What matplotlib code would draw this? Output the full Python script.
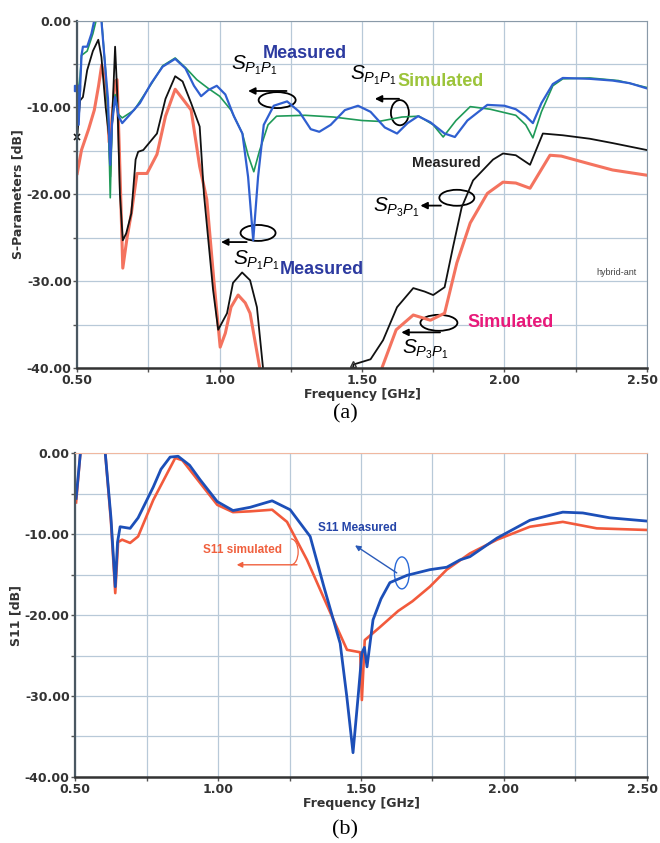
import matplotlib
matplotlib.use("Agg")
import matplotlib.pyplot as plt
import matplotlib.transforms as mtrans
from matplotlib.patches import Ellipse, Arc
from matplotlib.ticker import MultipleLocator, FormatStrFormatter

plt.rcParams['font.family'] = ['DejaVu Sans']
plt.rcParams['axes.unicode_minus'] = False
plt.rcParams['mathtext.fontset'] = 'custom'
plt.rcParams['mathtext.rm'] = 'Liberation Sans'
plt.rcParams['mathtext.it'] = 'Liberation Sans:italic'

# ---- (a) S-parameters of hybrid antenna ----
f_p1p1_meas = [0.500, 0.505, 0.515, 0.520, 0.535, 0.550, 0.563, 0.575, 0.585, 0.600, 0.608, 0.612, 0.616,
               0.622, 0.633, 0.645, 0.658, 0.680, 0.720, 0.760, 0.800, 0.844, 0.880, 0.910, 0.935, 0.960,
               0.990, 1.020, 1.050, 1.080, 1.100, 1.118, 1.135, 1.155, 1.190, 1.237, 1.280, 1.320, 1.350,
               1.390, 1.440, 1.486, 1.530, 1.580, 1.623, 1.660, 1.697, 1.740, 1.790, 1.826, 1.870, 1.940,
               2.000, 2.040, 2.075, 2.100, 2.130, 2.170, 2.205, 2.300, 2.380, 2.440, 2.500]
s_p1p1_meas = [-7.7, -12.0, -4.0, -3.0, -3.0, -1.5, 0.5, 1.0, 0.0, -6.0, -9.0, -13.0, -16.6,
               -12.0, -8.8, -11.0, -11.8, -11.0, -9.5, -7.2, -5.3, -4.4, -5.5, -7.5, -8.7, -8.0,
               -7.5, -8.5, -11.0, -13.0, -18.0, -25.3, -18.0, -12.0, -9.8, -9.3, -10.5, -12.5, -12.8,
               -12.0, -10.3, -9.8, -10.5, -12.3, -13.0, -11.8, -11.0, -11.7, -13.0, -13.4, -11.5, -9.7,
               -9.8, -10.2, -11.0, -11.8, -9.5, -7.3, -6.6, -6.7, -6.9, -7.2, -7.8]

f_p1p1_sim = [0.500, 0.505, 0.515, 0.535, 0.555, 0.570, 0.585, 0.600, 0.610, 0.616, 0.622, 0.633, 0.645,
              0.658, 0.700, 0.760, 0.800, 0.844, 0.880, 0.920, 0.960, 1.000, 1.040, 1.080, 1.100, 1.120,
              1.140, 1.170, 1.200, 1.300, 1.400, 1.500, 1.560, 1.640, 1.700, 1.750, 1.785, 1.830, 1.880,
              1.950, 2.040, 2.075, 2.100, 2.130, 2.170, 2.205, 2.300, 2.400, 2.500]
s_p1p1_sim = [-6.5, -9.0, -4.0, -3.5, -1.5, 0.5, 0.3, -6.0, -12.0, -20.4, -12.0, -8.5, -10.8,
              -11.2, -10.3, -7.3, -5.2, -4.3, -5.4, -6.8, -7.8, -8.7, -10.3, -13.0, -15.5, -17.4,
              -15.0, -12.0, -11.0, -10.9, -11.1, -11.5, -11.6, -11.1, -11.0, -12.0, -13.4, -11.5, -9.9,
              -10.2, -10.9, -12.0, -13.5, -10.5, -7.5, -6.7, -6.6, -6.9, -7.7]

f_p3p1_meas = [0.500, 0.510, 0.520, 0.535, 0.555, 0.574, 0.585, 0.600, 0.612, 0.616, 0.622, 0.633, 0.640,
               0.650, 0.660, 0.672, 0.690, 0.705, 0.714, 0.732, 0.780, 0.810, 0.844, 0.870, 0.900, 0.930,
               0.945, 0.977, 0.995, 1.026, 1.047, 1.079, 1.107, 1.131, 1.153, 1.160, 1.450, 1.470, 1.530,
               1.574, 1.623, 1.680, 1.720, 1.750, 1.790, 1.820, 1.850, 1.890, 1.925, 1.960, 1.995, 2.040,
               2.090, 2.135, 2.205, 2.300, 2.380, 2.500]
s_p3p1_meas = [-13.4, -9.2, -8.8, -5.7, -3.5, -2.2, -4.2, -10.0, -13.4, -18.0, -12.0, -3.0, -8.0,
               -20.0, -25.3, -24.5, -22.2, -16.0, -15.1, -14.9, -13.0, -9.0, -6.4, -7.0, -9.5, -12.2,
               -20.0, -31.0, -35.6, -33.7, -30.2, -29.0, -29.9, -33.0, -40.2, -45.0, -45.0, -39.6, -39.0,
               -36.8, -33.0, -30.8, -31.2, -31.6, -30.7, -26.0, -21.5, -18.4, -17.2, -16.0, -15.3, -15.5,
               -16.6, -13.0, -13.2, -13.6, -14.1, -14.9]

f_p3p1_sim = [0.500, 0.515, 0.540, 0.560, 0.575, 0.586, 0.595, 0.605, 0.612, 0.620, 0.633, 0.640, 0.648,
              0.660, 0.675, 0.690, 0.710, 0.745, 0.780, 0.810, 0.844, 0.870, 0.900, 0.930, 0.955, 0.980,
              1.002, 1.020, 1.040, 1.065, 1.090, 1.107, 1.142, 1.150, 1.560, 1.571, 1.620, 1.680, 1.740,
              1.790, 1.833, 1.880, 1.940, 1.995, 2.040, 2.090, 2.160, 2.200, 2.300, 2.380, 2.500]
s_p3p1_sim = [-17.6, -14.9, -12.5, -10.3, -7.5, -5.1, -6.5, -10.0, -14.0, -12.0, -7.0, -6.8, -15.0,
              -28.5, -25.0, -22.2, -17.6, -17.6, -15.4, -11.0, -7.9, -9.0, -10.3, -16.8, -20.6, -30.0,
              -37.6, -36.0, -33.0, -31.6, -32.5, -33.7, -40.2, -45.0, -45.0, -39.9, -35.6, -33.9, -34.5,
              -33.7, -27.9, -23.3, -19.9, -18.6, -18.7, -19.3, -15.5, -15.6, -16.5, -17.2, -17.8]

# ---- (b) S11 ----
f_s11_meas = [0.503, 0.518, 0.530, 0.595, 0.605, 0.625, 0.640, 0.648, 0.657, 0.692, 0.720, 0.773, 0.800,
              0.832, 0.860, 0.900, 0.937, 0.997, 1.052, 1.112, 1.189, 1.252, 1.322, 1.370, 1.427, 1.450,
              1.472, 1.490, 1.503, 1.512, 1.521, 1.542, 1.570, 1.601, 1.661, 1.741, 1.800, 1.846, 1.881,
              1.976, 2.091, 2.206, 2.276, 2.371, 2.500]
s11_meas = [-5.6, 0.0, 5.0, 5.0, 0.0, -8.0, -16.5, -11.0, -9.1, -9.3, -8.0, -4.2, -2.0,
            -0.5, -0.4, -1.5, -3.3, -6.0, -7.1, -6.7, -5.9, -7.0, -10.3, -16.5, -23.5, -30.0,
            -37.0, -30.0, -24.7, -24.0, -26.4, -20.6, -18.0, -16.0, -15.1, -14.4, -14.1, -13.2, -12.8,
            -10.5, -8.3, -7.3, -7.4, -8.0, -8.4]

f_s11_sim = [0.503, 0.518, 0.530, 0.595, 0.605, 0.625, 0.640, 0.650, 0.664, 0.692, 0.720, 0.773, 0.850,
             0.875, 0.937, 0.997, 1.052, 1.112, 1.189, 1.241, 1.311, 1.400, 1.451, 1.497, 1.503, 1.513,
             1.566, 1.630, 1.680, 1.741, 1.800, 1.881, 1.976, 2.091, 2.206, 2.325, 2.500]
s11_sim = [-6.1, 0.0, 5.0, 5.0, 0.0, -8.5, -17.3, -11.0, -10.7, -11.1, -10.3, -5.8, -0.6,
           -0.9, -3.7, -6.4, -7.3, -7.2, -7.0, -8.5, -13.2, -20.3, -24.3, -24.6, -30.5, -23.1,
           -21.5, -19.5, -18.3, -16.5, -14.4, -12.4, -10.7, -9.1, -8.5, -9.3, -9.5]

fig = plt.figure(figsize=(6.6, 8.43), dpi=100)
ax1 = fig.add_axes([0.117, 0.5635, 0.863, 0.412])
ax2 = fig.add_axes([0.114, 0.0783, 0.866, 0.3843])

grid_c = '#b8c9d8'
for ax in (ax1, ax2):
    ax.set_xlim(0.5, 2.5)
    ax.set_ylim(-40, 0)
    ax.xaxis.set_major_locator(MultipleLocator(0.5))
    ax.xaxis.set_minor_locator(MultipleLocator(0.25))
    ax.yaxis.set_major_locator(MultipleLocator(10))
    ax.yaxis.set_minor_locator(MultipleLocator(5))
    ax.xaxis.set_major_formatter(FormatStrFormatter('%.2f'))
    ax.yaxis.set_major_formatter(FormatStrFormatter('%.2f'))
    ax.grid(True, which='both', color=grid_c, lw=0.9)
    ax.set_axisbelow(True)
    ax.tick_params(which='both', direction='out', length=3, width=1, color='#555', pad=1)
    ax.tick_params(labelsize=9, labelcolor='#333')
    for lab in ax.get_xticklabels() + ax.get_yticklabels():
        lab.set_fontweight('bold')
    ax.spines['left'].set_color('#4a5862')
    ax.spines['left'].set_linewidth(1.6)
    ax.spines['bottom'].set_color('#333')
    ax.spines['bottom'].set_linewidth(1.8)
    ax.spines['right'].set_color('#8a9aa8')
    ax.spines['top'].set_color('#8a9aa8')
ax2.spines['top'].set_color('#f0b8a0')

# top panel curves
ax1.plot(f_p3p1_sim, s_p3p1_sim, color='#f4735f', lw=2.2)
ax1.plot(f_p3p1_meas, s_p3p1_meas, color='#111111', lw=1.3)
ax1.plot(f_p1p1_sim, s_p1p1_sim, color='#1f9a58', lw=1.2)
ax1.plot(f_p1p1_meas, s_p1p1_meas, color='#2f5fd0', lw=1.6)
ax1.plot(f_p1p1_meas[:1], s_p1p1_meas[:1], 's', color='#2f5fd0', ms=4, clip_on=False)
ax1.plot(f_p3p1_meas[:1], s_p3p1_meas[:1], 'x', color='#111111', ms=5, mew=1.2, clip_on=False)
ax1.plot(f_p3p1_meas[37:38], s_p3p1_meas[37:38], '^', mfc='none', mec='#333', ms=5)

ax1.set_xlabel('Frequency [GHz]', fontsize=9, fontweight='bold', color='#333', labelpad=1)
ax1.set_ylabel('S-Parameters [dB]', fontsize=9, fontweight='bold', color='#333', labelpad=2)

ann_font = 'Liberation Sans'
# S_P1P1 measured (upper)
ax1.text(1.040, -5.6, r'$S_{P_1P_1}$', fontsize=15, ha='left', va='baseline')
ax1.text(1.15, -3.8, 'Measured', fontsize=13, fontweight='bold', color='#2c3aa0',
         family=ann_font, ha='left', va='center')
ax1.add_patch(Ellipse((1.202, -9.15), 0.13, 1.84, fill=False, lw=1.3, color='k'))
ax1.annotate('', xy=(1.10, -8.1), xytext=(1.235, -8.1),
             arrowprops=dict(arrowstyle='-|>', color='k', lw=1.3, mutation_scale=10, shrinkA=0, shrinkB=0))
# S_P1P1 simulated
ax1.text(1.458, -6.8, r'$S_{P_1P_1}$', fontsize=15, ha='left', va='baseline')
ax1.text(1.623, -7.0, 'Simulated', fontsize=13, fontweight='bold', color='#9cc43a',
         family=ann_font, ha='left', va='center')
ax1.add_patch(Ellipse((1.633, -10.6), 0.063, 2.9, fill=False, lw=1.3, color='k'))
ax1.annotate('', xy=(1.545, -9.0), xytext=(1.63, -9.0),
             arrowprops=dict(arrowstyle='-|>', color='k', lw=1.3, mutation_scale=10, shrinkA=0, shrinkB=0))
# measured S_P3P1
ax1.text(1.796, -16.4, 'Measured', fontsize=10.5, fontweight='bold', color='#222',
         family=ann_font, ha='center', va='center')
ax1.text(1.539, -22.0, r'$S_{P_3P_1}$', fontsize=15, ha='left', va='baseline')
ax1.add_patch(Ellipse((1.833, -20.4), 0.123, 1.84, fill=False, lw=1.3, color='k'))
ax1.annotate('', xy=(1.705, -21.3), xytext=(1.777, -21.3),
             arrowprops=dict(arrowstyle='-|>', color='k', lw=1.3, mutation_scale=10, shrinkA=0, shrinkB=0))
# S_P1P1 measured (lower)
ax1.text(1.047, -28.1, r'$S_{P_1P_1}$', fontsize=15, ha='left', va='baseline')
ax1.text(1.212, -28.7, 'Measured', fontsize=13, fontweight='bold', color='#2c3aa0',
         family=ann_font, ha='left', va='center')
ax1.add_patch(Ellipse((1.135, -24.45), 0.123, 1.84, fill=False, lw=1.3, color='k'))
ax1.annotate('', xy=(1.005, -25.5), xytext=(1.095, -25.5),
             arrowprops=dict(arrowstyle='-|>', color='k', lw=1.3, mutation_scale=10, shrinkA=0, shrinkB=0))
# simulated S_P3P1
ax1.text(1.872, -34.8, 'Simulated', fontsize=13, fontweight='bold', color='#e8197a',
         family=ann_font, ha='left', va='center')
ax1.add_patch(Ellipse((1.770, -34.8), 0.13, 1.84, fill=False, lw=1.3, color='k'))
ax1.annotate('', xy=(1.638, -35.9), xytext=(1.774, -35.9),
             arrowprops=dict(arrowstyle='-|>', color='k', lw=1.3, mutation_scale=10, shrinkA=0, shrinkB=0))
ax1.text(1.640, -38.3, r'$S_{P_3P_1}$', fontsize=15, ha='left', va='baseline')
ax1.text(2.395, -29.0, 'hybrid-ant', fontsize=6.5, color='#444', family=ann_font, ha='center', va='center')

# bottom panel curves
ax2.plot(f_s11_sim, s11_sim, color='#f25a3c', lw=1.9)
ax2.plot(f_s11_meas, s11_meas, color='#1c4fb8', lw=2.0)
ax2.set_xlabel('Frequency [GHz]', fontsize=9, fontweight='bold', color='#333', labelpad=1)
ax2.set_ylabel('S11 [dB]', fontsize=9, fontweight='bold', color='#333', labelpad=2)

ax2.text(1.087, -12.0, 'S11 simulated', fontsize=8.5, fontweight='bold', color='#f0603e',
         family=ann_font, ha='center', va='center')
ax2.annotate('', xy=(1.065, -13.8), xytext=(1.276, -13.8),
             arrowprops=dict(arrowstyle='-|>', color='#f0603e', lw=1.0, mutation_scale=8, shrinkA=0, shrinkB=0))
ax2.add_patch(Arc((1.255, -12.2), 0.05, 3.2, theta1=-90, theta2=90, color='#f0603e', lw=0.9))
ax2.text(1.489, -9.3, 'S11 Measured', fontsize=8.5, fontweight='bold', color='#2444a8',
         family=ann_font, ha='center', va='center')
ax2.annotate('', xy=(1.479, -11.4), xytext=(1.625, -14.8),
             arrowprops=dict(arrowstyle='-|>', color='#2a5ab8', lw=1.0, mutation_scale=8, shrinkA=0, shrinkB=0))
ax2.add_patch(Ellipse((1.643, -14.8), 0.052, 3.95, fill=False, lw=1.0, color='#2a6ad8'))

fig.text(0.523, 0.509, '(a)', fontsize=16, family='Liberation Serif', ha='center', va='center')
fig.text(0.523, 0.016, '(b)', fontsize=16, family='Liberation Serif', ha='center', va='center')

# nudge the right-most "2.50" labels so they stay inside the figure
fig.canvas.draw()
for ax in (ax1, ax2):
    for lab in ax.xaxis.get_ticklabels():
        if lab.get_text() == '2.50':
            lab.set_transform(lab.get_transform() + mtrans.Affine2D().translate(-4, 0))

fig.savefig('out.png', dpi=100)
